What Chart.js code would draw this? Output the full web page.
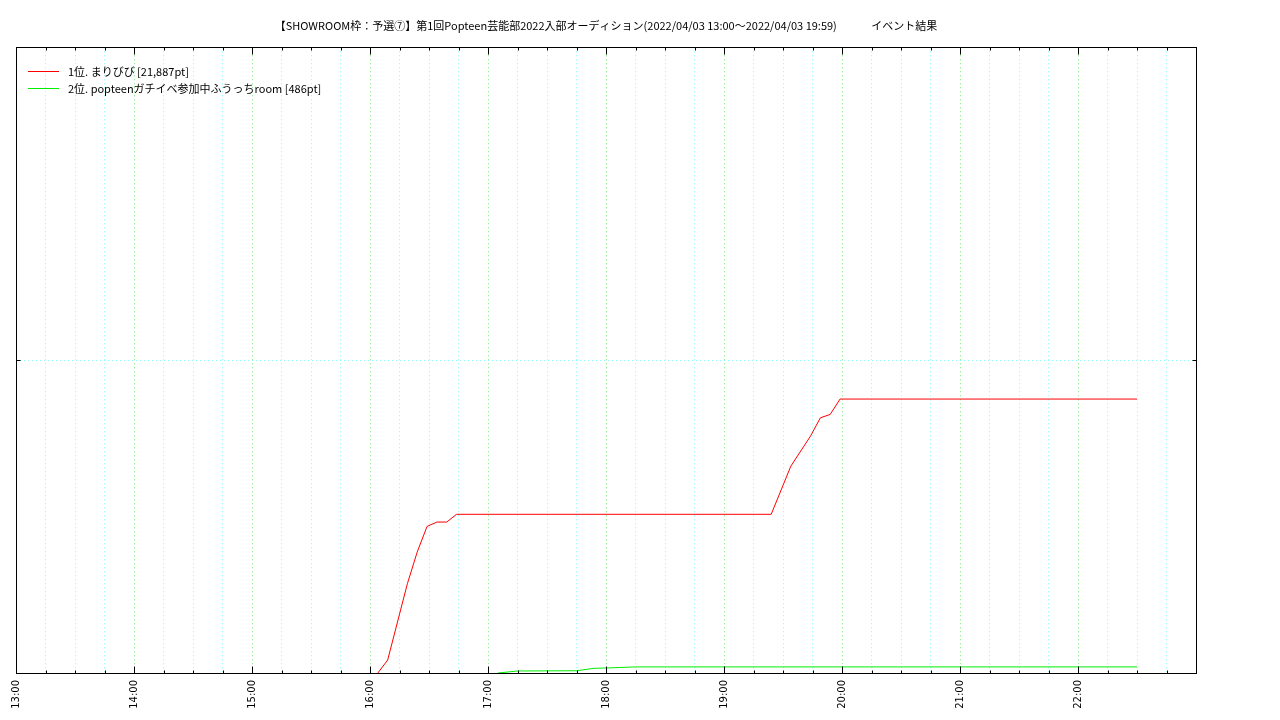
<!DOCTYPE html>
<html>
<head>
<meta charset="utf-8">
<script src="https://cdn.jsdelivr.net/npm/chart.js@4"></script>
<style>html,body{margin:0;padding:0;background:#fff;}canvas{display:block;}</style>
</head>
<body>
<canvas id="c" width="1280" height="720"></canvas>
<script>
const chartTitle = '【SHOWROOM枠：予選⑦】第1回Popteen芸能部2022入部オーディション(2022/04/03 13:00～2022/04/03 19:59)              イベント結果';
const seriesNames = ['1位. まりびび [21,887pt]', '2位. popteenガチイベ参加中ふうっちroom [486pt]'];
const seriesColors = ['#ff0000', '#00ee00'];
const redTimes = ['16:04','16:09','16:19','16:24','16:29','16:34','16:39','16:44','19:24','19:34','19:44','19:49','19:54','19:59','22:30'];
const redValues = [0,1040,7130,9660,11710,12060,12060,12680,12680,16530,18930,20390,20660,21887,21887];
const greenTimes = ['17:05','17:15','17:45','17:54','18:00','18:15','22:30'];
const greenValues = [0,160,180,375,400,486,486];
const axisStart = '13:00';
const axisEnd = '23:00';
const yMax = 50000;
const yStep = 25000;

function toMin(t){const [h,m]=t.split(':').map(Number);const [h0,m0]=axisStart.split(':').map(Number);return (h*60+m)-(h0*60+m0);}
function toPts(ts,vs){return ts.map((t,i)=>({x:toMin(t),y:vs[i]}));}
function fmt(v){const [h0]=axisStart.split(':').map(Number);const tot=h0*60+v;return Math.floor(tot/60)+':'+String(tot%60).padStart(2,'0');}

Chart.defaults.font.family = '"Noto Sans CJK JP", "Noto Sans", sans-serif';
Chart.defaults.font.size = 11;
Chart.defaults.color = '#000';

const framePlugin = {
  id: 'frame',
  afterDraw(chart){
    const ctx = chart.ctx, a = chart.chartArea;
    const xs = chart.scales.x, ys = chart.scales.y;
    ctx.save();
    ctx.strokeStyle = '#000';
    ctx.lineWidth = 1;
    const L = Math.round(a.left)+0.5, R = Math.round(a.right)+0.5, T = Math.round(a.top)+0.5, B = Math.round(a.bottom)+0.5;
    ctx.strokeRect(L, T, R-L, B-T);
    ctx.beginPath();
    xs.ticks.forEach(t=>{
      const px = Math.round(xs.getPixelForValue(t.value))+0.5;
      const len = (t.value % 60 === 0) ? 7 : 3;
      ctx.moveTo(px, B); ctx.lineTo(px, B-len);
      ctx.moveTo(px, T); ctx.lineTo(px, T+len);
    });
    ys.ticks.forEach(t=>{
      if (t.value<=0 || t.value>=yMax) return;
      const py = Math.round(ys.getPixelForValue(t.value))+0.5;
      ctx.moveTo(L, py); ctx.lineTo(L+4, py);
      ctx.moveTo(R, py); ctx.lineTo(R-4, py);
    });
    ctx.stroke();
    // legend
    ctx.font = '11px "Noto Sans CJK JP", "Noto Sans", sans-serif';
    ctx.textBaseline = 'middle';
    ctx.fillStyle = '#000';
    chart.data.datasets.forEach((ds,i)=>{
      const y = Math.round(a.top + 24 + i*17)+0.5;
      ctx.strokeStyle = ds.borderColor;
      ctx.beginPath();
      ctx.moveTo(a.left+12, y); ctx.lineTo(a.left+43, y);
      ctx.stroke();
      ctx.fillText(ds.label, a.left+52, y);
    });
    ctx.restore();
  }
};

new Chart(document.getElementById('c'), {
  type: 'line',
  data: {
    datasets: [
      {label: seriesNames[0], data: toPts(redTimes, redValues), borderColor: seriesColors[0], borderWidth: 1, pointRadius: 0, tension: 0, fill: false},
      {label: seriesNames[1], data: toPts(greenTimes, greenValues), borderColor: seriesColors[1], borderWidth: 1, pointRadius: 0, tension: 0, fill: false}
    ]
  },
  options: {
    responsive: false,
    animation: false,
    devicePixelRatio: 1,
    layout: {padding: {left: 16, right: 84, top: 0, bottom: 0}},
    plugins: {
      legend: {display: false},
      tooltip: {enabled: false},
      title: {display: true, text: chartTitle, color: '#000', font: {size: 11, weight: 'normal'}, padding: {top: 19, bottom: 15}}
    },
    scales: {
      x: {
        type: 'linear', min: 0, max: toMin(axisEnd),
        afterFit(s){ s.height = 47; },
        border: {display: false, dash: [1, 3]},
        grid: {
          drawTicks: false,
          color: c => (c.tick && c.tick.value % 60 === 0) ? '#77ee77' : '#88ffff',
          lineWidth: 1
        },
        ticks: {
          stepSize: 15, autoSkip: false, minRotation: 90, maxRotation: 90, padding: 7,
          color: '#000', font: {size: 10, family: '"DejaVu Sans", sans-serif'},
          callback: v => (v % 60 === 0 && v < toMin(axisEnd)) ? fmt(v) : ''
        }
      },
      y: {
        min: 0, max: yMax,
        afterFit(s){ s.width = 0; },
        border: {display: false, dash: [1, 3]},
        grid: {drawTicks: false, color: '#88ffff', lineWidth: 1},
        ticks: {display: false, stepSize: yStep}
      }
    }
  },
  plugins: [framePlugin]
});
</script>
</body>
</html>
